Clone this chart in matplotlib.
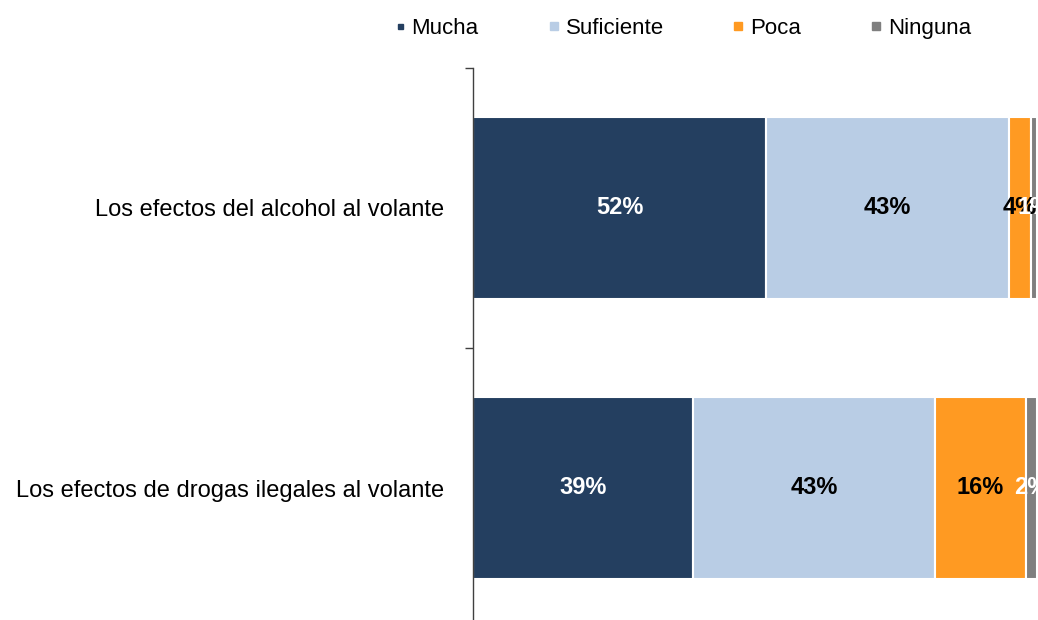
import matplotlib
matplotlib.use('Agg')
import matplotlib.pyplot as plt
from matplotlib.patches import Rectangle
import numpy as np

plt.rcParams['font.family'] = ['Liberation Sans', 'DejaVu Sans']

# survey answers, one row per statement
categories = ['Los efectos del alcohol al volante',
              'Los efectos de drogas ilegales al volante']
levels = ['Mucha', 'Suficiente', 'Poca', 'Ninguna']
mucha = [52, 39]
suficiente = [43, 43]
poca = [4, 16]
ninguna = [1, 2]

colors = ['#243F60', '#B9CDE5', '#FF9A22', '#7F7F7F']
label_colors = ['white', 'black', 'black', 'white']

W, H = 1038, 620
fig = plt.figure(figsize=(W / 100, H / 100), dpi=100)
ax = fig.add_axes([473 / W, (H - 628) / H, 564 / W, 560 / H])

series = [mucha, suficiente, poca, ninguna]
y = np.arange(len(categories))
left = np.zeros(len(categories))
for vals, col, tcol in zip(series, colors, label_colors):
    vals = np.array(vals, dtype=float)
    ax.barh(y, vals, left=left, height=0.65, color=col,
            edgecolor='white', linewidth=1.5)
    for yi, l, v in zip(y, left, vals):
        ax.text(l + v / 2, yi, f'{v:.0f}%', ha='center', va='center',
                color=tcol, fontsize=17, fontweight='bold', clip_on=False)
    left += vals

ax.set_xlim(0, 100)
ax.set_ylim(1.5, -0.5)
ax.set_xticks([])
ax.set_yticks(y)
ax.set_yticklabels(categories, fontsize=17)
ax.tick_params(axis='y', which='major', length=0, pad=21)
ax.set_yticks([-0.5, 0.5, 1.5], minor=True)
ax.tick_params(axis='y', which='minor', length=6, width=1, color='#404040')
for s in ['top', 'right', 'bottom']:
    ax.spines[s].set_visible(False)
ax.spines['left'].set_color('#404040')
ax.spines['left'].set_linewidth(1)

# legend across the top
leg_x = [398, 550, 734, 872]
sizes = [5, 8, 8, 8]
for lx, sz, col, name in zip(leg_x, sizes, colors, levels):
    fig.add_artist(Rectangle((lx / W, (H - 26 - sz / 2) / H),
                             sz / W, sz / H, transform=fig.transFigure,
                             color=col))
    fig.text((lx + 13 + (sz - 5)) / W, (H - 26) / H, name, fontsize=16,
             ha='left', va='center_baseline')

fig.savefig('out.png', dpi=100)
